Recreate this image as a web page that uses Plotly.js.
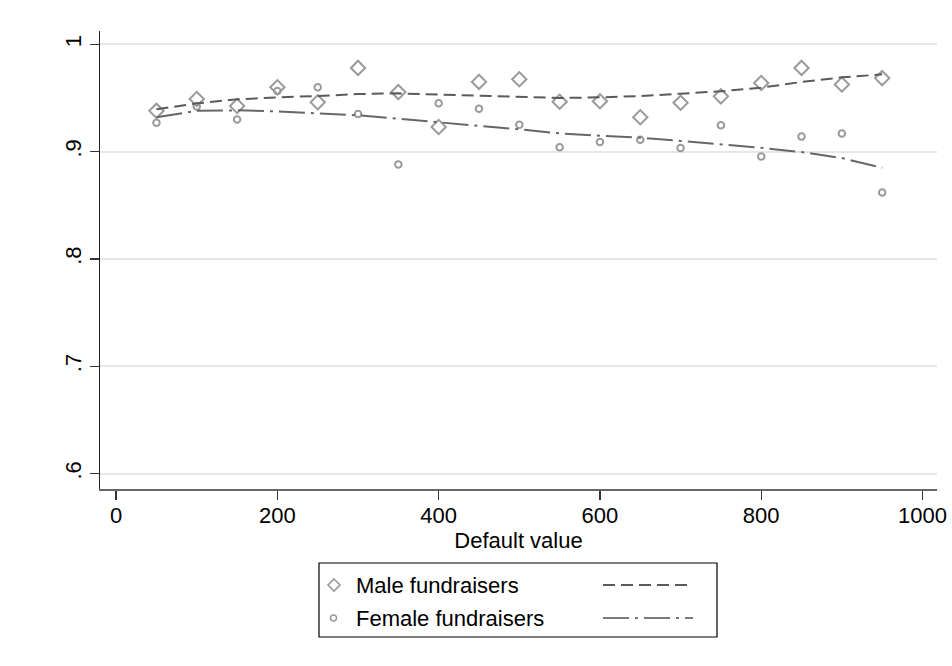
<!DOCTYPE html>
<html>
<head>
<meta charset="utf-8">
<script src="https://cdn.plot.ly/plotly-3.0.1.min.js"></script>
<style>html,body{margin:0;padding:0;background:#fff;}#chart{width:952px;height:666px;}</style>
</head>
<body>
<div id="chart"></div>
<script>
// Data
var defaultValue = [50,100,150,200,250,300,350,400,450,500,550,600,650,700,750,800,850,900,950];
var maleRate   = [0.938,0.949,0.9425,0.960,0.946,0.978,0.9555,0.923,0.965,0.9675,0.9465,0.947,0.932,0.9455,0.9515,0.964,0.978,0.9625,0.9685];
var femaleRate = [0.927,0.942,0.930,0.9565,0.960,0.935,0.888,0.945,0.940,0.925,0.904,0.909,0.911,0.9035,0.9245,0.8955,0.914,0.917,0.862];
var maleFit    = [0.9394,0.945,0.9487,0.9506,0.9518,0.9537,0.9543,0.9534,0.952,0.9512,0.950,0.9506,0.9518,0.954,0.9562,0.9596,0.9649,0.9692,0.972];
var femaleFit  = [0.932,0.938,0.9385,0.9375,0.9357,0.9338,0.9307,0.927,0.924,0.9208,0.917,0.9148,0.913,0.910,0.9068,0.9036,0.8996,0.894,0.885];
var seriesNames = ["Male fundraisers","Female fundraisers"];
var yTickVals = [0.6,0.7,0.8,0.9,1];
var yTickText = [".6",".7",".8",".9","1"];
var xTickVals = [0,200,400,600,800,1000];
var xTitle = "Default value";

var FONT = "Liberation Sans, Arial, sans-serif";
var FS = 22;
var markerGray = "#9a9a9a";
var lineGray = "#5a5a5a";
var maleDash = "12px,6px";
var femaleDash = "26px,6px,3px,6px";

var traces = [
  {x: defaultValue, y: maleRate, mode: "markers", type: "scatter", name: seriesNames[0],
   marker: {symbol: "diamond-open", size: 11, color: markerGray, line: {width: 2, color: markerGray}}},
  {x: defaultValue, y: femaleRate, mode: "markers", type: "scatter", name: seriesNames[1],
   marker: {symbol: "circle-open", size: 6.5, color: markerGray, line: {width: 2, color: markerGray}}},
  {x: defaultValue, y: maleFit, mode: "lines", type: "scatter", name: seriesNames[0] + " fit",
   line: {color: lineGray, width: 2, dash: maleDash}},
  {x: defaultValue, y: femaleFit, mode: "lines", type: "scatter", name: seriesNames[1] + " fit",
   line: {color: "#666", width: 2, dash: femaleDash}}
];

// Legend geometry (paper coords): plot area x 100..937, y 31..489
function px(xp){ return (xp-100)/837; }
function py(yp){ return (489-yp)/458; }

var shapes = [
  {type: "rect", xref: "paper", yref: "paper", x0: px(319), x1: px(717), y0: py(563), y1: py(637),
   line: {color: "#000", width: 1.2}, fillcolor: "rgba(0,0,0,0)"},
  {type: "line", xref: "paper", yref: "paper", x0: px(603), x1: px(693), y0: py(585), y1: py(585),
   line: {color: lineGray, width: 2, dash: maleDash}},
  {type: "line", xref: "paper", yref: "paper", x0: px(603), x1: px(693), y0: py(618), y1: py(618),
   line: {color: "#7a7a7a", width: 2, dash: femaleDash}},
  {type: "path", xref: "paper", yref: "paper",
   path: "M " + px(334) + " " + py(579) + " L " + px(340) + " " + py(585) + " L " + px(334) + " " + py(591) + " L " + px(328) + " " + py(585) + " Z",
   line: {color: markerGray, width: 1.6}},
  {type: "circle", xref: "paper", yref: "paper", x0: px(330.5), x1: px(336.5), y0: py(621), y1: py(615),
   line: {color: markerGray, width: 1.5}}
];

var annotations = [
  {xref: "paper", yref: "paper", x: px(354), y: py(585), xanchor: "left", yanchor: "middle",
   text: seriesNames[0], showarrow: false, font: {family: FONT, size: FS, color: "#000"}},
  {xref: "paper", yref: "paper", x: px(354), y: py(618), xanchor: "left", yanchor: "middle",
   text: seriesNames[1], showarrow: false, font: {family: FONT, size: FS, color: "#000"}}
];

var layout = {
  width: 952, height: 666,
  margin: {l: 100, r: 15, t: 31, b: 177, pad: 0},
  paper_bgcolor: "#fff", plot_bgcolor: "#fff",
  showlegend: false,
  font: {family: FONT, size: FS, color: "#000"},
  xaxis: {
    range: [-20, 1018], tickvals: xTickVals, ticktext: xTickVals.map(String),
    ticks: "outside", ticklen: 9, tickwidth: 1.3, tickcolor: "#333",
    showline: true, linecolor: "#666", linewidth: 2, showgrid: false, zeroline: false,
    tickfont: {family: FONT, size: FS, color: "#000"}, ticklabelstandoff: -3,
    title: {text: xTitle, standoff: 0, font: {family: FONT, size: FS, color: "#000"}},
    automargin: false
  },
  yaxis: {
    range: [0.5857, 1.0124], tickvals: yTickVals, ticktext: yTickText, tickangle: -90,
    ticks: "outside", ticklen: 9, tickwidth: 1.3, tickcolor: "#333",
    showline: true, linecolor: "#222", linewidth: 1.5,
    showgrid: true, gridcolor: "#e6e6e6", gridwidth: 2, zeroline: false,
    tickfont: {family: FONT, size: FS, color: "#000"},
    automargin: false
  },
  shapes: shapes,
  annotations: annotations
};

Plotly.newPlot("chart", traces, layout, {displayModeBar: false, staticPlot: true});
</script>
</body>
</html>
